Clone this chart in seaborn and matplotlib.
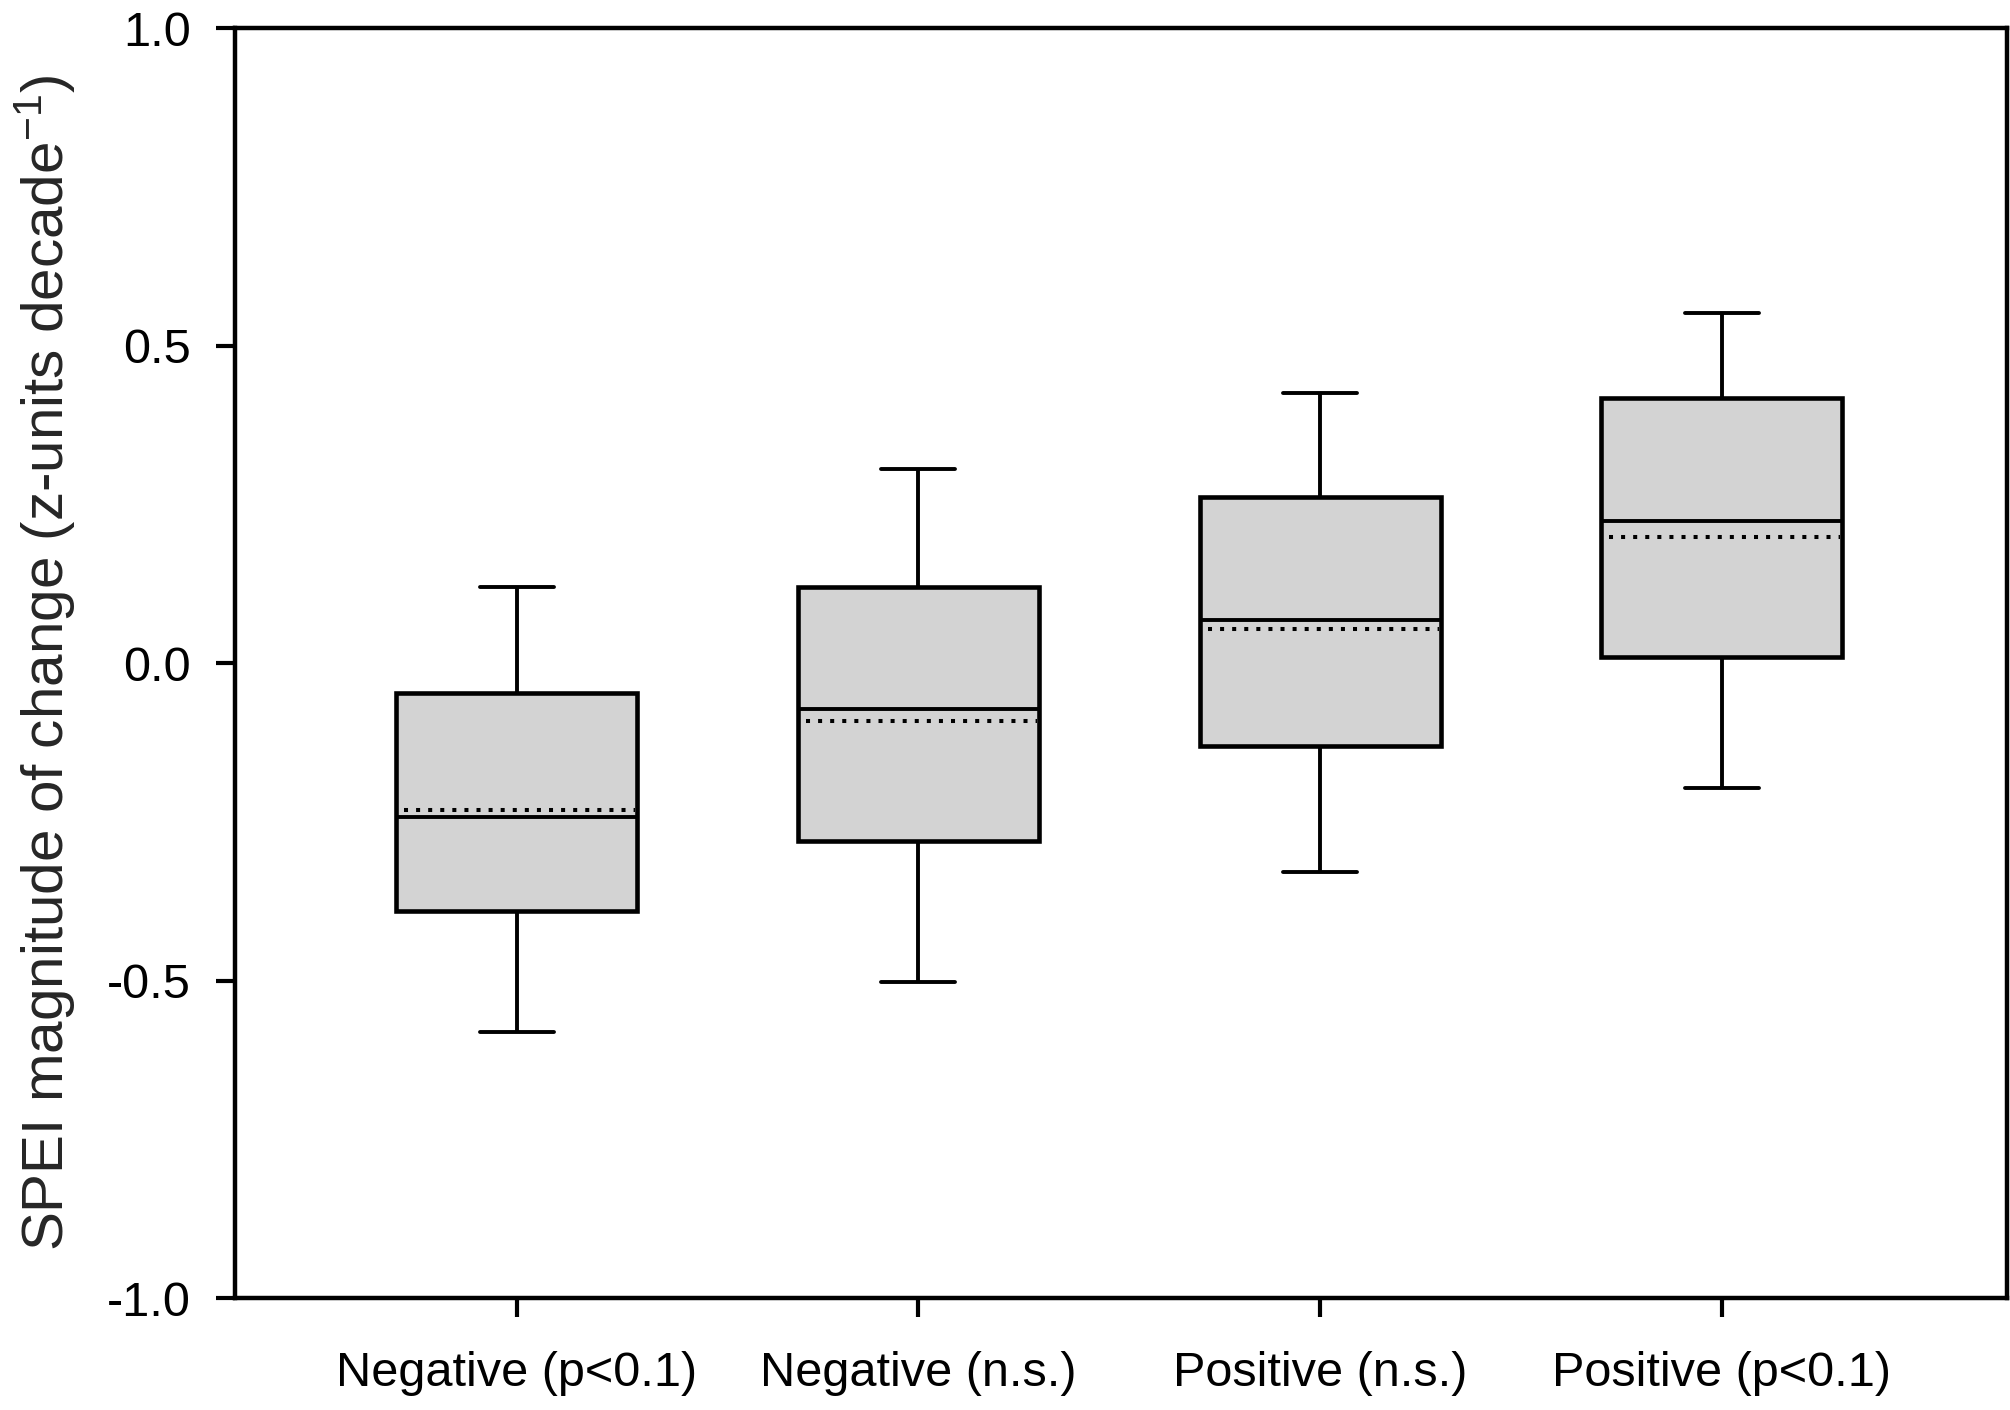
import numpy as np
import pandas as pd
import matplotlib
matplotlib.use("Agg")
import matplotlib.pyplot as plt
import seaborn as sns

# ---- data ----
categories = ["Negative (p<0.1)", "Negative (n.s.)", "Positive (n.s.)", "Positive (p<0.1)"]
whisker_low = [-0.581, -0.502, -0.329, -0.197]
quartile_1 = [-0.390, -0.280, -0.131, 0.010]
medians = [-0.242, -0.072, 0.068, 0.224]
quartile_3 = [-0.047, 0.120, 0.262, 0.417]
whisker_high = [0.120, 0.306, 0.425, 0.552]
means = [-0.231, -0.091, 0.054, 0.199]
y_ticks = [-1.0, -0.5, 0.0, 0.5, 1.0]
y_tick_labels = ["-1.0", "-0.5", "0.0", "0.5", "1.0"]

# five-number summaries as long-form table (whis=(0,100) reproduces them exactly)
rows = []
for i, c in enumerate(categories):
    for v in (whisker_low[i], quartile_1[i], medians[i], quartile_3[i], whisker_high[i]):
        rows.append({"category": c, "value": v})
df = pd.DataFrame(rows)

sns.set_style("ticks")
plt.rcParams["font.family"] = ["Liberation Sans", "DejaVu Sans"]
plt.rcParams["axes.unicode_minus"] = False
plt.rcParams["mathtext.default"] = "regular"

fig = plt.figure(figsize=(20.1, 14.1), dpi=100)
ax = fig.add_axes([0.1169, 0.0794, 0.9985 - 0.1169, 0.9801 - 0.0794])

sns.boxplot(
    data=df, x="category", y="value", order=categories,
    whis=(0, 100), width=0.6, color="#d3d3d3", saturation=1,
    linecolor="black", linewidth=2.8, fliersize=0,
    boxprops=dict(linewidth=3.3),
    capwidths=0.184,
    ax=ax,
)

# mean lines (dotted)
xs = np.arange(len(categories))
ax.hlines(means, xs - 0.28, xs + 0.295, colors="black", linewidth=2.9,
          linestyles=[(0, (1.0, 2.0))], zorder=5)

ax.set_xlim(-0.701, 3.710)
ax.set_ylim(-1.0, 1.0)
ax.set_yticks(y_ticks)
ax.set_yticklabels(y_tick_labels)
ax.set_xlabel("")
ax.set_ylabel("SPEI magnitude of change (z-units decade$^{-1}$)", fontsize=42, labelpad=22)

for side in ["left", "right", "top", "bottom"]:
    ax.spines[side].set_visible(True)
    ax.spines[side].set_linewidth(3.2)
    ax.spines[side].set_color("black")

ax.tick_params(axis="y", direction="out", length=13.7, width=3.0, pad=18, labelsize=35, colors="black")
ax.tick_params(axis="x", direction="out", length=14, width=3.0, pad=24, labelsize=35, colors="black")
ax.tick_params(top=False, right=False)

fig.savefig("out.png", dpi=100, facecolor="white")
